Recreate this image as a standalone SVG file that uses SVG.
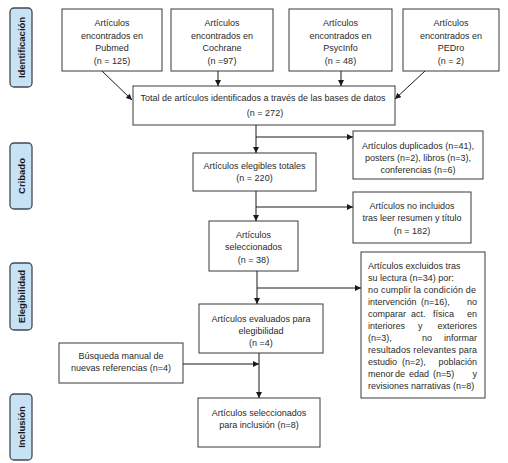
<svg xmlns="http://www.w3.org/2000/svg" width="508" height="463" viewBox="0 0 508 463">
<defs>
<marker id="ah" markerUnits="userSpaceOnUse" markerWidth="7" markerHeight="6" refX="6" refY="3" orient="auto">
<path d="M0,0 L6,3 L0,6 Z" fill="#1a1a1a"/>
</marker>
<style>
.box{fill:#fff;stroke:#3a3a3a;stroke-width:1}
.lab{fill:#c7e1f5;stroke:#404a55;stroke-width:1.3}
text{font-family:"Liberation Sans",Arial,sans-serif;font-size:9px;fill:#2a2a2a}
.c{text-anchor:middle}
.lt{font-weight:bold;font-size:9.5px;text-anchor:middle;fill:#1a1a1a}
.con{stroke:#1a1a1a;stroke-width:1;fill:none;marker-end:url(#ah)}
.ln{stroke:#1a1a1a;stroke-width:1;fill:none}
</style>
</defs>
<rect width="508" height="463" fill="#fff"/>

<g id="lab-identificacion"><rect class="lab" x="10" y="8" width="22" height="79" rx="4"/><text class="lt" transform="translate(24.5,47.5) rotate(-90)">Identificación</text></g>
<g id="lab-cribado"><rect class="lab" x="10" y="143" width="22" height="66" rx="4"/><text class="lt" transform="translate(24.5,176) rotate(-90)">Cribado</text></g>
<g id="lab-elegibilidad"><rect class="lab" x="10" y="263" width="22" height="67" rx="4"/><text class="lt" transform="translate(24.5,296.5) rotate(-90)">Elegibilidad</text></g>
<g id="lab-inclusion"><rect class="lab" x="10" y="394" width="22" height="66" rx="4"/><text class="lt" transform="translate(24.5,427) rotate(-90)">Inclusión</text></g>

<g id="pubmed"><rect class="box" x="62" y="9" width="100" height="62"/>
<text class="c" x="112" y="26">Artículos</text><text class="c" x="112" y="38.5">encontrados en</text><text class="c" x="112" y="51">Pubmed</text><text class="c" x="112" y="63.5">(n = 125)</text></g>
<g id="cochrane"><rect class="box" x="171" y="9" width="102" height="62"/>
<text class="c" x="222" y="26">Artículos</text><text class="c" x="222" y="38.5">encontrados en</text><text class="c" x="222" y="51">Cochrane</text><text class="c" x="222" y="63.5">(n =97)</text></g>
<g id="psycinfo"><rect class="box" x="289" y="9" width="103" height="62"/>
<text class="c" x="340.5" y="26">Artículos</text><text class="c" x="340.5" y="38.5">encontrados en</text><text class="c" x="340.5" y="51">PsycInfo</text><text class="c" x="340.5" y="63.5">(n = 48)</text></g>
<g id="pedro"><rect class="box" x="403" y="9" width="96" height="62"/>
<text class="c" x="451" y="26">Artículos</text><text class="c" x="451" y="38.5">encontrados en</text><text class="c" x="451" y="51">PEDro</text><text class="c" x="451" y="63.5">(n = 2)</text></g>

<g id="total"><rect class="box" x="133" y="86" width="262" height="39"/>
<text class="c" x="263" y="101">Total de artículos identificados a través de las bases de datos</text><text class="c" x="265" y="115.5">(n = 272)</text></g>
<g id="duplicados"><rect class="box" x="353" y="131" width="130" height="48"/>
<text class="c" x="418" y="148.5">Artículos duplicados (n=41),</text><text class="c" x="418" y="160.5">posters (n=2), libros (n=3),</text><text class="c" x="418" y="172.5">conferencias (n=6)</text></g>
<g id="elegibles"><rect class="box" x="193" y="153" width="123" height="38"/>
<text class="c" x="254.5" y="168.5">Artículos elegibles totales</text><text class="c" x="254.5" y="180.5">(n = 220)</text></g>
<g id="noincluidos"><rect class="box" x="353" y="192" width="118" height="51"/>
<text class="c" x="412" y="208.5">Artículos no incluidos</text><text class="c" x="412" y="221">tras leer resumen y título</text><text class="c" x="412" y="233.5">(n = 182)</text></g>
<g id="seleccionados"><rect class="box" x="209" y="221" width="89" height="50"/>
<text class="c" x="253.5" y="237.5">Artículos</text><text class="c" x="253.5" y="250">seleccionados</text><text class="c" x="253.5" y="263">(n = 38)</text></g>
<g id="excluidos"><rect class="box" x="361" y="252" width="124" height="146"/>
<text x="368" y="269">Artículos excluidos tras</text>
<text x="368" y="281">su lectura (n=34) por:</text>
<text x="368" y="293" textLength="108" lengthAdjust="spacing">no cumplir la condición de</text>
<text y="305"><tspan x="368">intervención</tspan><tspan x="421">(n=16),</tspan><tspan x="477" text-anchor="end">no</tspan></text>
<text y="317"><tspan x="368">comparar</tspan><tspan x="411">act.</tspan><tspan x="433">física</tspan><tspan x="477" text-anchor="end">en</tspan></text>
<text y="329"><tspan x="368">interiores</tspan><tspan x="418">y</tspan><tspan x="477" text-anchor="end">exteriores</tspan></text>
<text y="341"><tspan x="368">(n=3),</tspan><tspan x="422">no</tspan><tspan x="477" text-anchor="end">informar</tspan></text>
<text x="368" y="353" textLength="109" lengthAdjust="spacing">resultados relevantes para</text>
<text y="365"><tspan x="368">estudio</tspan><tspan x="402">(n=2),</tspan><tspan x="477" text-anchor="end">población</tspan></text>
<text y="377"><tspan x="368">menor</tspan><tspan x="395">de</tspan><tspan x="409">edad</tspan><tspan x="433">(n=5)</tspan><tspan x="477" text-anchor="end">y</tspan></text>
<text x="368" y="389">revisiones narrativas (n=8)</text></g>
<g id="evaluados"><rect class="box" x="199" y="304" width="124" height="49"/>
<text class="c" x="261" y="321.5">Artículos evaluados para</text><text class="c" x="261" y="333.5">elegibilidad</text><text class="c" x="261" y="345.5">(n =4)</text></g>
<g id="busqueda"><rect class="box" x="59" y="343" width="124" height="40"/>
<text class="c" x="121" y="358.5">Búsqueda manual de</text><text class="c" x="121" y="370.5">nuevas referencias (n=4)</text></g>
<g id="inclusion"><rect class="box" x="198" y="398" width="122" height="49"/>
<text class="c" x="259" y="415.5">Artículos seleccionados</text><text class="c" x="259" y="427.5">para inclusión (n=8)</text></g>

<g id="connectors">
<line class="con" x1="102" y1="71" x2="132" y2="100"/>
<line class="con" x1="218" y1="71" x2="218" y2="86"/>
<line class="con" x1="341" y1="71" x2="341" y2="86"/>
<line class="con" x1="425" y1="71" x2="395" y2="99"/>
<line class="con" x1="256" y1="125" x2="256" y2="153"/>
<line class="con" x1="256" y1="137" x2="353" y2="137"/>
<line class="con" x1="256" y1="191" x2="256" y2="221"/>
<line class="con" x1="256" y1="207" x2="353" y2="207"/>
<line class="con" x1="257" y1="271" x2="257" y2="304"/>
<line class="con" x1="257" y1="288" x2="361" y2="288"/>
<line class="con" x1="259" y1="353" x2="259" y2="398"/>
<line class="con" x1="183" y1="364" x2="259" y2="364"/>
</g>
</svg>
